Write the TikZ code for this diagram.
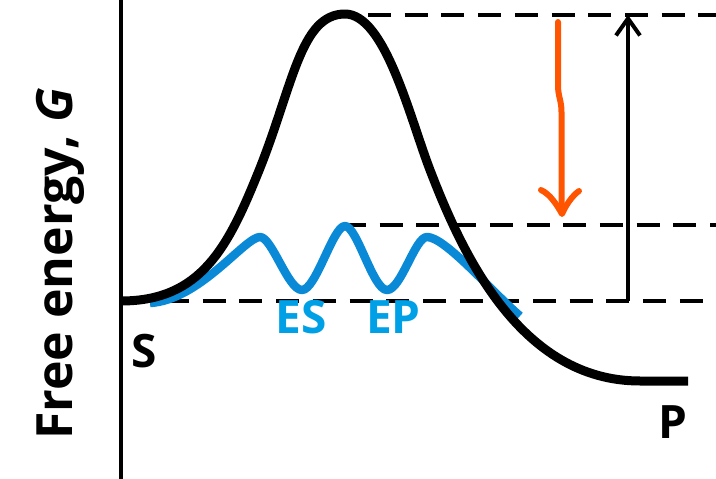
\documentclass[tikz,border=0pt]{standalone}
\usepackage{fontspec}
\setmainfont{Open Sans}
\usetikzlibrary{arrows.meta}
\definecolor{curveblue}{HTML}{0A8AD6}
\definecolor{labelblue}{HTML}{00A0E6}
\definecolor{arroworange}{HTML}{FF5500}
\begin{document}
\begin{tikzpicture}[x=1pt,y=-1pt,
  level/.style={line width=4pt, dash pattern=on 23pt off 13.7pt},
  axisline/.style={line width=4pt},
  bigcurve/.style={line width=9pt, line join=round},
  enzcurve/.style={curveblue, line width=8.5pt, line join=round},
  lbl/.style={font=\fontsize{46}{50}\selectfont\bfseries, inner sep=0pt, anchor=base},
  bluelbl/.style={lbl, text=labelblue},
  barrier/.style={line width=4pt, -{Straight Barb[length=17pt,width=24pt]}},
  orangearrow/.style={arroworange, line width=6pt, line cap=round, line join=round}]
\useasboundingbox (0,0) rectangle (716,479);

% axis
\coordinate (axtop) at (121,0);
\coordinate (axbot) at (121,479);
\draw[axisline] (axtop) -- (axbot);

% energy levels
\coordinate (lt0) at (368,15);  \coordinate (lt1) at (716,15);
\coordinate (lm0) at (343,225); \coordinate (lm1) at (716,225);
\coordinate (lb0) at (166,301); \coordinate (lb1) at (716,301);
\draw[level] (lt0) -- (lt1);
\draw[level] (lm0) -- (lm1);
\draw[level] (lb0) -- (lb1);

% catalysed pathway (blue)
\draw[enzcurve] (150,303) .. controls (200,300) and (245,237) .. (260,237)
  .. controls (272,237) and (288,290) .. (302,290)
  .. controls (316,290) and (333,226) .. (345,226)
  .. controls (357,226) and (373,290) .. (387,290)
  .. controls (401,290) and (415,237) .. (427,237)
  .. controls (445,237) and (490,290) .. (520,316);

% uncatalysed pathway (black)
\draw[bigcurve] (121,301) .. controls (201,301) and (228,247) .. (258,173)
  .. controls (293,87) and (300,14) .. (345,14)
  .. controls (385,14) and (410,118) .. (430,170)
  .. controls (462,253) and (520,381) .. (640,381) -- (688,381);

% activation energy arrow
\coordinate (abot) at (628,301);
\coordinate (atop) at (628,15);
\draw[barrier] (abot) -- (atop);

% orange arrow (lowering)
\coordinate (o0) at (558,22);
\coordinate (o1) at (561.5,212);
\coordinate (otip) at (562,214);
\coordinate (ol) at (541,190);
\coordinate (or) at (579,191);
\draw[orangearrow] (o0) -- (558,85) .. controls (558,97) and (561.5,100) .. (561.5,112) -- (o1);
\draw[orangearrow] (ol) .. controls (550,194) and (557,205) .. (otip)
  .. controls (566,205) and (572,196) .. (or);

% labels
\node[lbl] (S) at (144.5,367) {S};
\node[lbl] (P) at (673,438) {P};
\node[bluelbl] (ES) at (301,333) {ES};
\node[bluelbl] (EP) at (393.5,333) {EP};
\node[font=\fontsize{50}{54}\selectfont\bfseries, inner sep=0pt, rotate=90, anchor=base west] (ylab) at (72,440) {Free energy, \textit{G}};
\end{tikzpicture}
\end{document}
